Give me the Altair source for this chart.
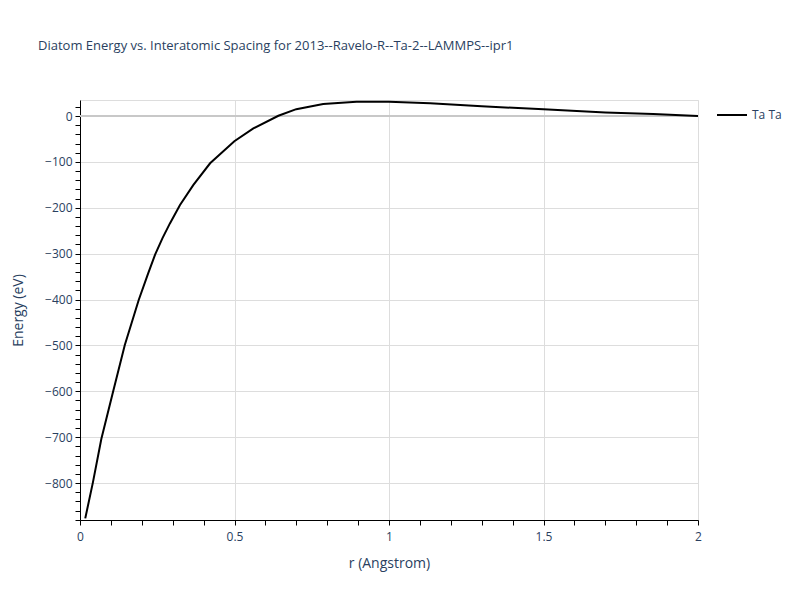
import altair as alt
import pandas as pd

# Data
r_values = [0.017, 0.042, 0.069, 0.107, 0.145, 0.19, 0.22, 0.243, 0.267, 0.291, 0.3236, 0.367,
            0.421, 0.4995, 0.561, 0.642, 0.70, 0.787, 0.895, 0.95, 1.0, 1.133,
            1.3, 1.5, 1.7, 1.855, 2.0]
energy_values = [-877, -798, -704, -601, -499, -401, -344, -302, -266, -234, -194, -150,
                 -103, -55, -27, 0.7, 15, 26.2, 31, 31.4, 31, 27.7,
                 21.5, 14.6, 8, 4.4, 0]
pair_names = ["Ta Ta"] * len(r_values)

df = pd.DataFrame({"r": r_values, "E": energy_values, "pair": pair_names})

TEXT = "#2a3f5f"
FONT = "Open Sans"

y_ticks = list(range(-880, 40, 20))
x_ticks = [round(i * 0.1, 1) for i in range(0, 21)]

y_scale = alt.Scale(domain=[-880.6, 35], nice=False, zero=False)
x_scale = alt.Scale(domain=[0, 2], nice=False, zero=False)

y_axis = alt.Axis(
    title="Energy (eV)", values=y_ticks,
    labelExpr="datum.value % 100 === 0 ? format(datum.value, '~g') : ''",
    gridOpacity={"condition": {"test": "datum.value % 100 === 0", "value": 1}, "value": 0},
    gridColor="#dddddd", domainColor="black", domainWidth=1,
    tickColor="black", tickSize=5, labelPadding=3, labelFlush=False,
    labelColor=TEXT, labelFont=FONT, labelFontSize=12,
    titleColor=TEXT, titleFont=FONT, titleFontSize=14, titleFontWeight="normal",
    titlePadding=19,
)
x_axis = alt.Axis(
    title="r (Angstrom)", values=x_ticks,
    labelExpr="abs(datum.value*2 - round(datum.value*2)) < 1e-6 ? format(datum.value, '~g') : ''",
    gridOpacity={"condition": {"test": "abs(datum.value*2 - round(datum.value*2)) < 1e-6", "value": 1}, "value": 0},
    gridColor="#dddddd", domainColor="black", domainWidth=1,
    tickColor="black", tickSize=5, labelPadding=6, labelFlush=False,
    labelColor=TEXT, labelFont=FONT, labelFontSize=12,
    titleColor=TEXT, titleFont=FONT, titleFontSize=14, titleFontWeight="normal",
    titlePadding=14,
)

zero = alt.Chart(pd.DataFrame({"z": [0]})).mark_rule(color="#c8c8c8", strokeWidth=2).encode(
    y=alt.Y("z:Q", scale=y_scale, axis=y_axis)
)

line = alt.Chart(df).mark_line(strokeWidth=2, clip=True).encode(
    x=alt.X("r:Q", scale=x_scale, axis=x_axis),
    y=alt.Y("E:Q", scale=y_scale, axis=y_axis),
    color=alt.Color("pair:N", scale=alt.Scale(range=["black"]),
                    legend=alt.Legend(title=None, orient="none", legendX=636, legendY=-1,
                                      symbolType="stroke", symbolStrokeWidth=2, symbolSize=900,
                                      labelColor=TEXT, labelFont=FONT, labelFontSize=12,
                                      labelOffset=4)),
)

chart = alt.layer(zero, line).properties(
    width=618, height=420,
    title=alt.TitleParams("Diatom Energy vs. Interatomic Spacing for 2013--Ravelo-R--Ta-2--LAMMPS--ipr1",
                          anchor="start", frame="group", dx=-42, offset=46,
                          color=TEXT, font=FONT, fontSize=13, fontWeight="normal"),
    autosize=alt.AutoSizeParams(type="none"),
    padding={"left": 72, "top": 92, "right": 94, "bottom": 72},
).configure_view(stroke=None).configure(background="white")

chart.save("out.html", embed_options={"renderer": "svg", "actions": False})
